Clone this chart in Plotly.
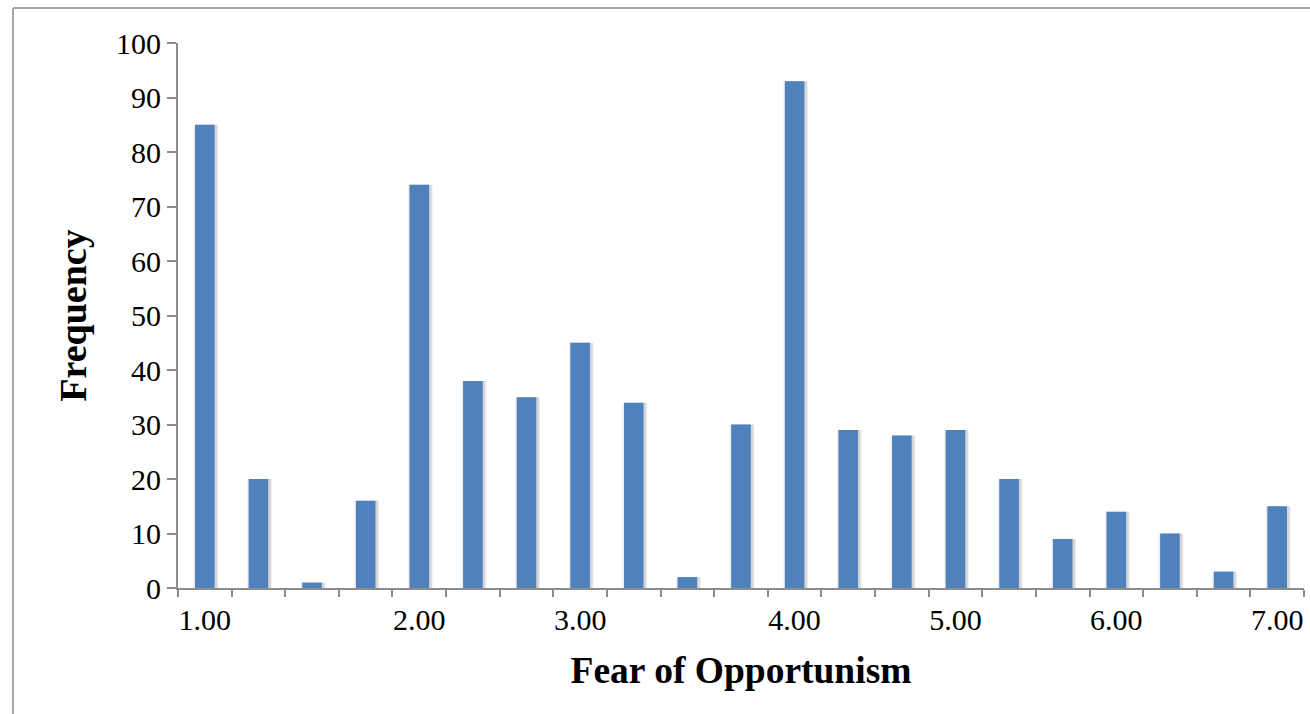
import plotly.graph_objects as go

# Fear of Opportunism scores (category values) and their frequencies
scores = ["1.00", "1.25", "1.50", "1.75", "2.00", "2.33", "2.67", "3.00",
          "3.25", "3.50", "3.75", "4.00", "4.33", "4.67", "5.00", "5.33",
          "5.67", "6.00", "6.33", "6.67", "7.00"]
frequency = [85, 20, 1, 16, 74, 38, 35, 45, 34, 2, 30, 93, 29, 28, 29, 20,
             9, 14, 10, 3, 15]
tick_labels = ["1.00", "2.00", "3.00", "4.00", "5.00", "6.00", "7.00"]

BAR_COLOR = "#4F81BD"
AXIS_COLOR = "#8C8C8C"
FONT = "Liberation Serif, Times New Roman, serif"

W, H = 1310, 714
L, R, T, B = 178, 6, 43, 126

fig = go.Figure()

# soft drop shadow behind each column
fig.add_trace(go.Bar(
    x=scores, y=frequency, width=0.46, offset=-0.21,
    marker=dict(color="rgba(205,205,205,0.35)", line=dict(width=0)),
    hoverinfo="skip", showlegend=False,
))
fig.add_trace(go.Bar(
    x=scores, y=frequency, width=0.41, offset=-0.18,
    marker=dict(color="rgba(185,185,185,0.45)", line=dict(width=0)),
    hoverinfo="skip", showlegend=False,
))
# columns
fig.add_trace(go.Bar(
    x=scores, y=frequency, width=0.365, offset=-0.1825,
    marker=dict(color=BAR_COLOR, line=dict(width=0)),
    name="Frequency", showlegend=False,
))

fig.update_layout(
    width=W, height=H,
    margin=dict(l=L, r=R, t=T, b=B, pad=0),
    paper_bgcolor="white", plot_bgcolor="white",
    barmode="overlay",
    font=dict(family=FONT, color="black", size=30),
    xaxis=dict(
        type="category",
        range=[-0.5, len(scores) - 0.5],
        tickmode="array",
        tickvals=scores,
        ticktext=[s if s in tick_labels else "" for s in scores],
        tickangle=0,
        tickson="boundaries",
        ticks="outside", ticklen=7, tickwidth=2, tickcolor=AXIS_COLOR,
        ticklabelstandoff=4,
        showline=True, linecolor=AXIS_COLOR, linewidth=2,
        showgrid=False, zeroline=False,
        tickfont=dict(size=30),
        title=dict(text="<b>Fear of Opportunism</b>", font=dict(size=37.5),
                   standoff=22),
    ),
    yaxis=dict(
        range=[0, 100], dtick=10, tick0=0,
        ticks="outside", ticklen=9, tickwidth=2, tickcolor=AXIS_COLOR,
        showline=True, linecolor=AXIS_COLOR, linewidth=2,
        showgrid=False, zeroline=False,
        tickfont=dict(size=30),
        title=dict(text="<b>Frequency</b>", font=dict(size=38), standoff=18),
    ),
)

# chart-area border (top and left edges)
pw, ph = W - L - R, H - T - B
bx = (13 - L) / pw
by = (H - B - 8) / ph
fig.add_shape(type="line", xref="paper", yref="paper",
              x0=bx, x1=(W + 10 - L) / pw, y0=by, y1=by,
              line=dict(color="#A6A6A6", width=2))
fig.add_shape(type="line", xref="paper", yref="paper",
              x0=bx, x1=bx, y0=by, y1=(H - B - H - 10) / ph,
              line=dict(color="#A6A6A6", width=2))

fig.write_html("out.html")
